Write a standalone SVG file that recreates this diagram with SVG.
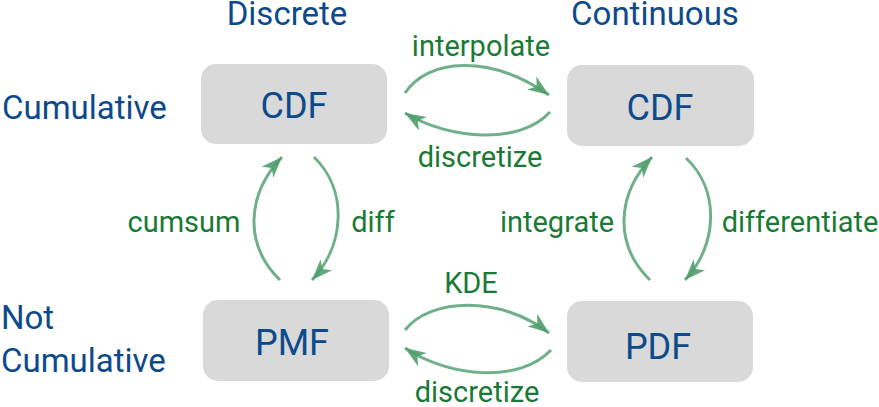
<svg xmlns="http://www.w3.org/2000/svg" width="879" height="407" viewBox="0 0 879 407">
<style>
.box{fill:#d9d9d9}
.bl{font-family:Roboto,"Liberation Sans",sans-serif;fill:#0d4a8c;font-size:36px;text-anchor:middle}
.hd{font-family:Roboto,"Liberation Sans",sans-serif;fill:#0d4a8c;font-size:33px}
.gl{font-family:Roboto,"Liberation Sans",sans-serif;fill:#1a7a35;font-size:29px;text-anchor:middle}
.arr{fill:none;stroke:#6fb08a;stroke-width:3;marker-end:url(#ah)}
</style>
<defs>
<marker id="ah" markerUnits="userSpaceOnUse" markerWidth="22" markerHeight="16" viewBox="0 0 22 16" refX="21" refY="8" orient="auto">
<path d="M0,0 L21,8 L0,16 L6,8 z" fill="#4f9e6c" fill-opacity="0.9"/>
</marker>
</defs>
<g id="headers">
<text class="hd" x="287" y="25" text-anchor="middle">Discrete</text>
<text class="hd" x="655" y="25" text-anchor="middle">Continuous</text>
<text class="hd" x="2" y="119">Cumulative</text>
<text class="hd" x="1" y="329">Not</text>
<text class="hd" x="1" y="372">Cumulative</text>
</g>
<g id="dcdf"><rect class="box" x="201" y="64" width="186" height="80" rx="15"/><text class="bl" x="294" y="118">CDF</text></g>
<g id="ccdf"><rect class="box" x="567" y="65" width="187" height="81" rx="15"/><text class="bl" x="660" y="120">CDF</text></g>
<g id="pmf"><rect class="box" x="203" y="300" width="186" height="81" rx="15"/><text class="bl" x="292" y="355">PMF</text></g>
<g id="pdf"><rect class="box" x="567" y="301" width="186" height="81" rx="15"/><text class="bl" x="658" y="359">PDF</text></g>
<g id="connectors">
<path class="arr" d="M405,93 C428,58 490,54 549,95"/>
<path class="arr" d="M550,112 C520,145 450,140 405,113"/>
<path class="arr" d="M280,280 C244,245 246,195 282,157"/>
<path class="arr" d="M314,157 C348,190 345,245 312,280"/>
<path class="arr" d="M650,280 C614,245 616,195 652,157"/>
<path class="arr" d="M686,158 C720,190 718,245 685,280"/>
<path class="arr" d="M405,330 C430,298 500,295 549,333"/>
<path class="arr" d="M551,350 C520,383 450,378 405,348"/>
<text class="gl" x="481" y="56">interpolate</text>
<text class="gl" x="480" y="167">discretize</text>
<text class="gl" x="184" y="232">cumsum</text>
<text class="gl" x="373" y="232">diff</text>
<text class="gl" x="557" y="232">integrate</text>
<text class="gl" x="800" y="232">differentiate</text>
<text class="gl" x="471" y="293">KDE</text>
<text class="gl" x="477" y="402">discretize</text>
</g>
</svg>
